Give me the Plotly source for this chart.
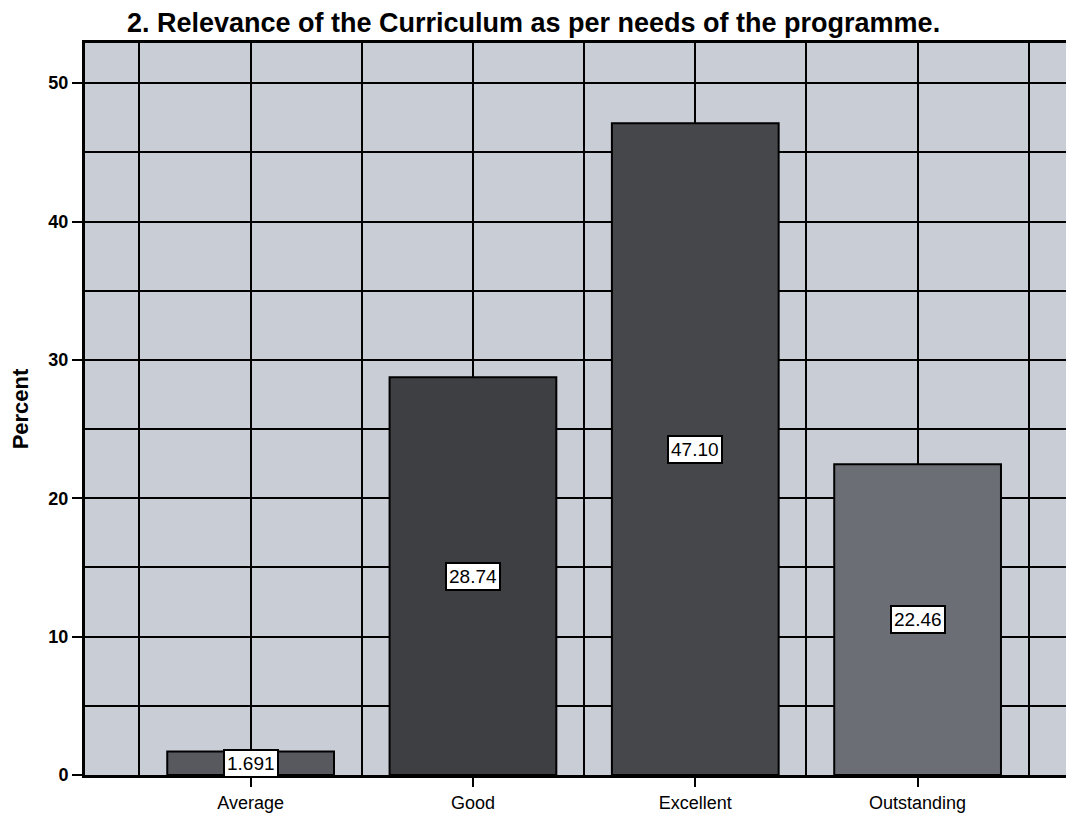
import plotly.graph_objects as go

categories = ["Average", "Good", "Excellent", "Outstanding"]
percent = [1.691, 28.74, 47.10, 22.46]
value_labels = ["1.691", "28.74", "47.10", "22.46"]
bar_colors = ["#57595e", "#3e3f43", "#46474b", "#6c6e75"]
y_ticks = [0, 10, 20, 30, 40, 50]
half_steps = [-0.5, 0.5, 1.5, 2.5, 3.5]

positions = list(range(len(categories)))
FONT = "Liberation Sans, Arial, sans-serif"

fig = go.Figure(
    go.Bar(
        x=positions,
        y=percent,
        width=0.75,
        marker=dict(color=bar_colors, line=dict(color="black", width=2)),
        showlegend=False,
    )
)

for p, v, t in zip(positions, percent, value_labels):
    fig.add_annotation(
        x=p, y=v / 2, text=t, showarrow=False,
        bgcolor="white", bordercolor="black", borderwidth=2, borderpad=2,
        font=dict(family=FONT, size=19, color="black"),
    )

fig.update_layout(
    width=1066, height=805,
    margin=dict(l=77, r=0, t=35, b=38),
    paper_bgcolor="white",
    plot_bgcolor="#c9cdd6",
    font=dict(family=FONT, color="black"),
    title=dict(
        text="<b>2. Relevance of the Curriculum as per needs of the programme.</b>",
        x=0.493, xanchor="center", xref="container",
        y=0.982, yanchor="middle", yref="container",
        font=dict(family=FONT, size=27, color="black"),
    ),
    xaxis=dict(
        range=[-0.745, 3.69],
        tickmode="array", tickvals=positions, ticktext=categories,
        ticks="outside", ticklen=9, tickwidth=2, tickcolor="black",
        tickfont=dict(size=18),
        showgrid=True, gridcolor="black", gridwidth=2,
        minor=dict(tickvals=half_steps, showgrid=True, gridcolor="black", gridwidth=2, ticks=""),
        showline=True, linecolor="black", linewidth=3, mirror=True,
        zeroline=False,
    ),
    yaxis=dict(
        range=[0, 52.9],
        tickmode="array", tickvals=y_ticks,
        ticks="outside", ticklen=10, tickwidth=2, tickcolor="black",
        tickfont=dict(size=18, weight="bold"),
        showgrid=True, gridcolor="black", gridwidth=2,
        minor=dict(dtick=5, showgrid=True, gridcolor="black", gridwidth=2, ticks=""),
        showline=True, linecolor="black", linewidth=3, mirror=True,
        zeroline=False,
        title=dict(text="<b>Percent</b>", font=dict(size=22), standoff=16),
    ),
)

fig.write_html("out.html")
